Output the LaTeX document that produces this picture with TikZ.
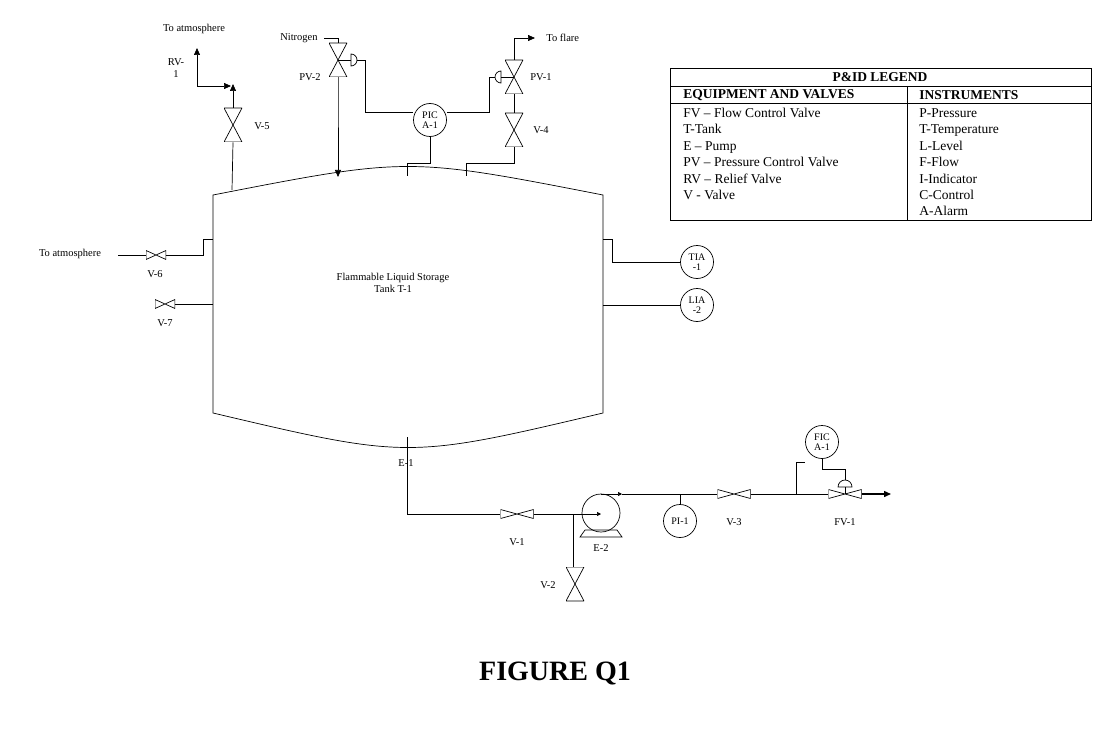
\documentclass[tikz,border=0pt]{standalone}
\usepackage{fontspec}
\setmainfont{Liberation Serif}
\usetikzlibrary{arrows.meta}
\begin{document}
\begin{tikzpicture}[x=1pt,y=-1pt,line width=0.7pt,
  lbl/.style={font=\fontsize{10.5}{11.5}\selectfont,inner sep=0pt},
  leg/.style={font=\fontsize{13.5}{15}\selectfont,inner sep=0pt,anchor=base west},
  legb/.style={font=\bfseries\fontsize{13.5}{15}\selectfont,inner sep=0pt},
  inst/.style={draw,circle,minimum size=33pt,inner sep=0pt,align=center,font=\fontsize{10}{10}\selectfont},
  vh/.style={minimum width=#1,minimum height=9pt,inner sep=0pt,
    path picture={\draw (path picture bounding box.north west)--(path picture bounding box.south east)--(path picture bounding box.north east)--(path picture bounding box.south west)--cycle;}},
  vh/.default=33pt,
  vv/.style={minimum width=18pt,minimum height=34pt,inner sep=0pt,
    path picture={\draw (path picture bounding box.north west)--(path picture bounding box.north east)--(path picture bounding box.south west)--(path picture bounding box.south east)--cycle;}},
  arr/.style={-{Triangle[length=7pt,width=6pt]}}]
\useasboundingbox (0,0) rectangle (1099,730);
% tank
\draw (213,195) .. controls (408,157) .. (603,195) -- (603,413) .. controls (408,459) .. (213,413) -- cycle;
\node[lbl,align=center] (tank) at (393,283) {Flammable Liquid Storage\\Tank T-1};
\coordinate (tA) at (232,190);
\coordinate (tB) at (338,177);
\coordinate (tC) at (407,176);
\coordinate (tD) at (466,176);
% V-5 / RV-1
\node[vv] (v5) at (233,125) {};
\node[lbl] at (262,126) {V-5};
\draw (tA) -- (v5.south);
\draw[arr] (v5.north) -- (233,84);
\draw[arr] (197,86) -- (197,48);
\draw[arr] (197,86) -- (231,86);
\node[lbl,align=center] at (176,68) {RV-\\1};
\node[lbl] at (194,29) {To atmosphere};
% PV-2
\node[vv] (pv2) at (338,60) {};
\node[lbl] at (310,77) {PV-2};
\node[lbl,anchor=east] (n2) at (318,38) {Nitrogen};
\draw (n2.east)++(6,0) -- (338,38) -- (pv2.north);
\draw[arr] (pv2.south) -- (338,86) -- (tB);
\draw (338,60) -- (351,60);
\draw (351,54) arc (-90:90:6) -- cycle;
% PIC
\node[inst] (pic) at (430,120) {PIC\\A-1};
\draw (357,60) -- (365,60) -- (365,112) -- (pic.west|-0,112);
\draw (pic.south) -- (430,163) -- (407,163) -- (tC);
% PV-1
\node[vv] (pv1) at (514,77) {};
\node[lbl] at (541,77) {PV-1};
\draw (514,77) -- (501,77);
\draw (501,83) arc (90:270:6) -- cycle;
\draw (pic.east|-0,112) -- (489,112) -- (489,77) -- (495,77);
\draw[arr] (pv1.north) -- (514,38) -- (535,38);
\node[lbl,anchor=west] at (546,38) {To flare};
% V-4
\node[vv] (v4) at (514,130) {};
\node[lbl] at (541,130) {V-4};
\draw (pv1.south) -- (v4.north);
\draw (v4.south) -- (514,163) -- (466,163) -- (tD);
% left side
\node[vh=20pt] (v6) at (156,255) {};
\node[lbl] at (155,274) {V-6};
\node[lbl] at (70,254) {To atmosphere};
\draw (118,255) -- (v6.west);
\draw (v6.east) -- (203,255) -- (203,239) -- (213,239);
\node[vh=20pt] (v7) at (165,304) {};
\node[lbl] at (165,323) {V-7};
\draw (v7.east) -- (213,304);
% right instruments
\node[inst] (tia) at (697,262) {TIA\\-1};
\node[inst] (lia) at (697,305) {LIA\\-2};
\draw (603,239) -- (612,239) -- (612,262) -- (tia.west);
\draw (603,305) -- (lia.west);
% bottom line
\node[lbl] at (406,463) {E-1};
\node[vh] (v1) at (517,514) {};
\node[lbl] at (517,542) {V-1};
\draw (407,437) -- (407,514) -- (v1.west);
\node[draw,circle,minimum size=38pt,inner sep=0pt] (e2) at (601,513) {};
\draw (585,530) -- (617,530) -- (622,537) -- (580,537) -- cycle;
\node[lbl] at (601,548) {E-2};
\draw (v1.east) -- (573,514);
\draw[-{Triangle[length=4pt,width=4pt]}] (573,514) -- (601,514);
\node[vv] (v2) at (575,584) {};
\node[lbl] at (548,585) {V-2};
\draw (573,514) -- (573,567);
\draw[-{Triangle[length=4pt,width=4pt]}] (601,494) -- (622,494);
\node[inst] (pi1) at (680,521) {PI-1};
\draw (680,494) -- (pi1.north);
\node[vh] (v3) at (734,494) {};
\node[lbl] at (734,522) {V-3};
\draw (622,494) -- (v3.west);
\node[vh] (fv1) at (845,494) {};
\node[lbl] at (845,522) {FV-1};
\draw (v3.east) -- (fv1.west);
\node[inst] (fic) at (822,442) {FIC\\A-1};
\draw (796,494) -- (796,462) -- (fic.west|-0,462);
\draw (fic.south) -- (822,469) -- (845,469) -- (845,480);
\draw (838,487) arc (180:360:7) -- cycle;
\draw (845,487) -- (845,494);
\draw[arr,line width=1.4pt] (fv1.east) -- (891,494);
% legend
\draw (670,68) rectangle (1091,220);
\draw (670,86) -- (1091,86) (670,103) -- (1091,103) (907,86) -- (907,220);
\node[legb] at (880,77) {P\&ID LEGEND};
\node[legb,anchor=west] at (683,95) {EQUIPMENT AND VALVES};
\node[legb,anchor=west] at (919,95) {INSTRUMENTS};
\foreach \t [count=\i] in {FV – Flow Control Valve,T-Tank,E – Pump,PV – Pressure Control Valve,RV – Relief Valve,V - Valve}
  \node[leg] at (683,101+16.4*\i) {\t};
\foreach \t [count=\i] in {P-Pressure,T-Temperature,L-Level,F-Flow,I-Indicator,C-Control,A-Alarm}
  \node[leg] at (919,101+16.4*\i) {\t};
\node[font=\bfseries\fontsize{28}{30}\selectfont] (fig) at (555,673) {FIGURE Q1};
\end{tikzpicture}
\end{document}
